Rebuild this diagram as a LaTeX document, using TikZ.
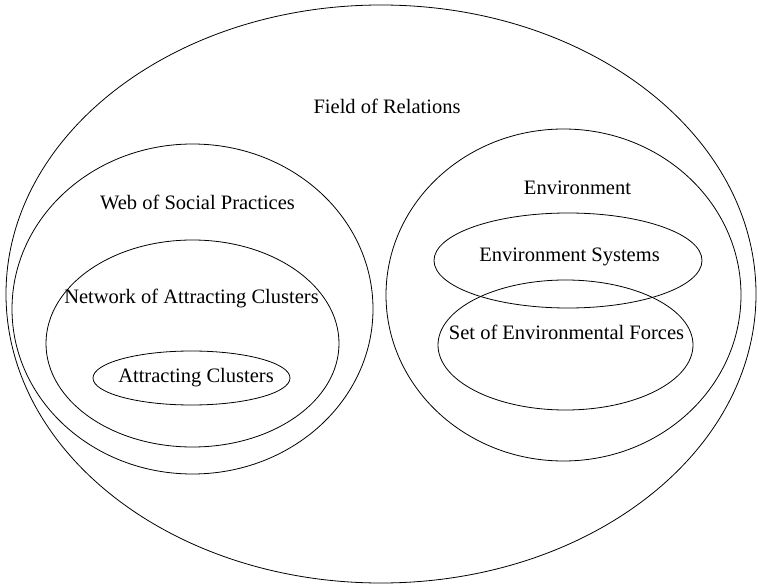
\documentclass[tikz,border=0pt]{standalone}
\usepackage{fontspec}
\setmainfont{Liberation Serif}
\usetikzlibrary{shapes.geometric}
\begin{document}
\begin{tikzpicture}[x=1pt,y=-1pt,
  ell/.style={draw, ellipse, line width=0.8pt, inner sep=0pt},
  lbl/.style={font=\fontsize{20.5}{24}\selectfont, inner sep=0pt, anchor=center}]
\useasboundingbox (0,0) rectangle (758,588);
\node[ell, minimum width=750pt, minimum height=578pt] (field) at (381,294) {};
\node[ell, minimum width=361pt, minimum height=330pt] (web) at (192.5,309) {};
\node[ell, minimum width=293pt, minimum height=207pt] (net) at (192.5,343.5) {};
\node[ell, minimum width=197pt, minimum height=54pt] (ac) at (191.5,378) {};
\node[ell, minimum width=355pt, minimum height=332pt] (env) at (563.5,295) {};
\node[ell, minimum width=268pt, minimum height=95pt] (es) at (568,260.5) {};
\node[ell, minimum width=255pt, minimum height=130pt] (ef) at (565.5,345) {};
\node[lbl] (tfield) at (387,106) {Field of Relations};
\node[lbl] (tweb) at (197.5,202) {Web of Social Practices};
\node[lbl] (tnet) at (191.5,298) {Network of Attracting Clusters};
\node[lbl] (tac) at (196,378) {Attracting Clusters};
\node[lbl] (tenv) at (577.5,188) {Environment};
\node[lbl] (tes) at (569.5,257) {Environment Systems};
\node[lbl] (tef) at (566.5,332) {Set of Environmental Forces};
\end{tikzpicture}
\end{document}
